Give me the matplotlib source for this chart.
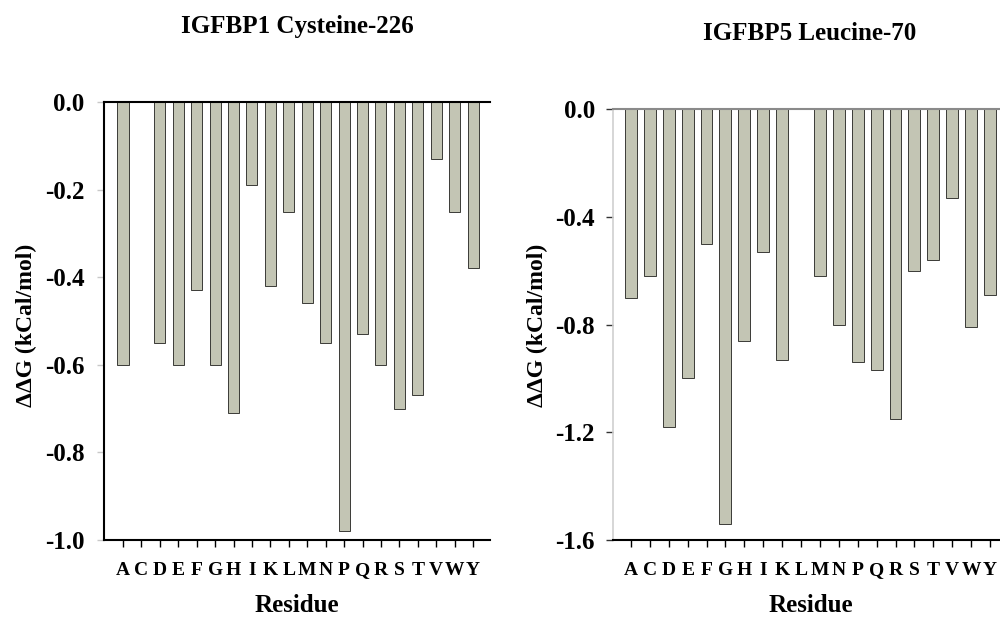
import matplotlib
matplotlib.use("Agg")
import matplotlib.pyplot as plt

plt.rcParams["font.family"] = ["Liberation Serif", "DejaVu Serif"]
plt.rcParams["font.weight"] = "bold"
plt.rcParams["axes.unicode_minus"] = False

residues = list("ACDEFGHIKLMNPQRSTVWY")
# ddG values (kCal/mol); 0 where no bar is drawn
igfbp1_cys226 = [-0.60, 0.0, -0.55, -0.60, -0.43, -0.60, -0.71, -0.19, -0.42, -0.25,
                 -0.46, -0.55, -0.98, -0.53, -0.60, -0.70, -0.67, -0.13, -0.25, -0.38]
igfbp5_leu70 = [-0.70, -0.62, -1.18, -1.00, -0.50, -1.54, -0.86, -0.53, -0.93, 0.0,
                -0.62, -0.80, -0.94, -0.97, -1.15, -0.60, -0.56, -0.33, -0.81, -0.69]

bar_color = "#c3c5b4"
edge_color = "#3a3a36"

fig = plt.figure(figsize=(10, 6.23), dpi=100)
W, H = 1000, 623

def px_axes(x0, x1, y0, y1):
    return fig.add_axes([x0 / W, 1 - y1 / H, (x1 - x0) / W, (y1 - y0) / H])

ax1 = px_axes(104, 490, 102, 540)
ax2 = px_axes(613, 1000, 109, 540)

x = list(range(len(residues)))

ax1.bar(x, igfbp1_cys226, width=0.6, color=bar_color, edgecolor=edge_color, linewidth=0.7)
ax1.set_xlim(-1.03, 19.92)
ax1.set_ylim(-1.0, 0.0)
ax1.set_yticks([0.0, -0.2, -0.4, -0.6, -0.8, -1.0])
ax1.set_yticklabels(["0.0", "-0.2", "-0.4", "-0.6", "-0.8", "-1.0"])

ax2.bar(x, igfbp5_leu70, width=0.63, color=bar_color, edgecolor=edge_color, linewidth=0.7)
ax2.set_xlim(-0.95, 19.53)
ax2.set_ylim(-1.6, 0.0)
ax2.set_yticks([0.0, -0.4, -0.8, -1.2, -1.6])
ax2.set_yticklabels(["0.0", "-0.4", "-0.8", "-1.2", "-1.6"])

for ax in (ax1, ax2):
    ax.set_xticks(x)
    ax.set_xticklabels(residues, fontsize=14, fontweight="bold")
    ax.tick_params(axis="x", length=5, width=1, color="black", pad=11)
    ax.tick_params(axis="y", labelsize=18, length=5, width=1)
    for lbl in ax.get_yticklabels():
        lbl.set_fontweight("bold")
    ax.spines["right"].set_visible(False)
    ax.spines["bottom"].set_color("black")
    ax.spines["bottom"].set_linewidth(1.5)

ax1.tick_params(axis="y", color="#c8c8c8", pad=9)
ax1.spines["left"].set_color("black")
ax1.spines["left"].set_linewidth(1.5)
ax1.spines["top"].set_color("black")
ax1.spines["top"].set_linewidth(1.5)

ax2.tick_params(axis="y", color="#333333", pad=8)
ax2.spines["left"].set_color("#cfcfcf")
ax2.spines["left"].set_linewidth(1.2)
ax2.spines["top"].set_color("#8a8a8a")
ax2.spines["top"].set_linewidth(1.5)

# titles, axis labels
fig.text(297 / W, 1 - 27 / H, "IGFBP1 Cysteine-226", ha="center", va="center",
         fontsize=18, fontweight="bold")
fig.text(810 / W, 1 - 34 / H, "IGFBP5 Leucine-70", ha="center", va="center",
         fontsize=18, fontweight="bold")
fig.text(297 / W, 1 - 606 / H, "Residue", ha="center", va="center",
         fontsize=18, fontweight="bold")
fig.text(811 / W, 1 - 606 / H, "Residue", ha="center", va="center",
         fontsize=18, fontweight="bold")
fig.text(26 / W, 1 - 325 / H, "ΔΔG (kCal/mol)", ha="center", va="center",
         rotation=90, fontsize=17, fontweight="bold")
fig.text(537 / W, 1 - 325 / H, "ΔΔG (kCal/mol)", ha="center", va="center",
         rotation=90, fontsize=17, fontweight="bold")

fig.savefig("out.png", dpi=100)
